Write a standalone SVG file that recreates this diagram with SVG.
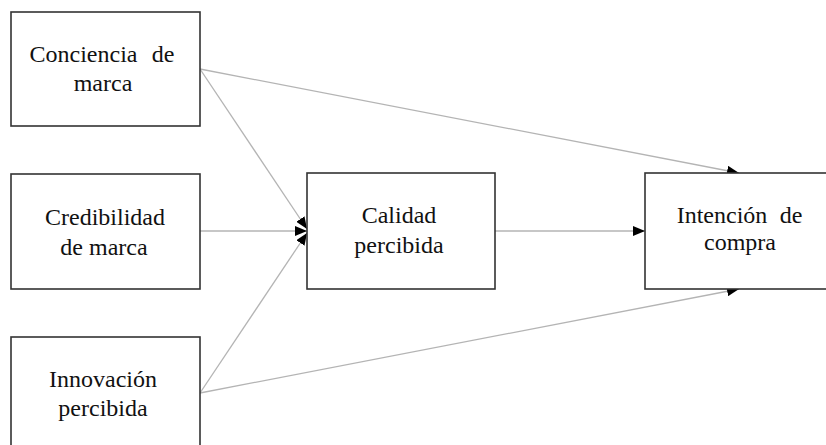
<svg xmlns="http://www.w3.org/2000/svg" width="826" height="445" viewBox="0 0 826 445">
  <style>
    .box { fill: #ffffff; stroke: #333333; stroke-width: 1.6; }
    .lbl { font-family: "Liberation Serif", "DejaVu Serif", serif; font-size: 24px; fill: #111111; text-anchor: middle; }
    .edge { stroke: #b4b4b4; stroke-width: 1.3; fill: none; marker-end: url(#head); }
  </style>
  <defs>
    <marker id="head" viewBox="0 0 12 10" refX="12" refY="5" markerWidth="12" markerHeight="10" markerUnits="userSpaceOnUse" orient="auto">
      <path d="M0,0 L12,5 L0,10 z" fill="#000000"/>
    </marker>
  </defs>

  <rect width="826" height="445" fill="#ffffff"/>

  <!-- connectors -->
  <g id="connectors">
    <line class="edge" x1="200" y1="69" x2="307" y2="229"/>
    <line class="edge" x1="200" y1="231" x2="307" y2="231"/>
    <line class="edge" x1="200" y1="393" x2="307" y2="233"/>
    <line class="edge" x1="200" y1="69" x2="739" y2="173"/>
    <line class="edge" x1="200" y1="393" x2="739" y2="289"/>
    <line class="edge" x1="495" y1="231" x2="645" y2="231"/>
  </g>

  <!-- nodes -->
  <g id="conciencia">
    <rect class="box" x="11" y="12" width="189" height="114"/>
    <text class="lbl"><tspan x="83.5" y="62">Conciencia</tspan><tspan x="163" y="62">de</tspan><tspan x="103" y="91">marca</tspan></text>
  </g>
  <g id="credibilidad">
    <rect class="box" x="11" y="174" width="189" height="115"/>
    <text class="lbl"><tspan x="105" y="225">Credibilidad</tspan><tspan x="104" y="255">de marca</tspan></text>
  </g>
  <g id="innovacion">
    <rect class="box" x="11" y="337" width="189" height="120"/>
    <text class="lbl"><tspan x="103" y="387">Innovación</tspan><tspan x="103" y="416">percibida</tspan></text>
  </g>
  <g id="calidad">
    <rect class="box" x="307" y="173" width="188" height="116"/>
    <text class="lbl"><tspan x="399" y="223">Calidad</tspan><tspan x="399" y="253">percibida</tspan></text>
  </g>
  <g id="intencion">
    <rect class="box" x="645" y="173" width="190" height="116"/>
    <text class="lbl"><tspan x="722" y="223">Intención</tspan><tspan x="791" y="223">de</tspan><tspan x="740" y="250">compra</tspan></text>
  </g>
</svg>
